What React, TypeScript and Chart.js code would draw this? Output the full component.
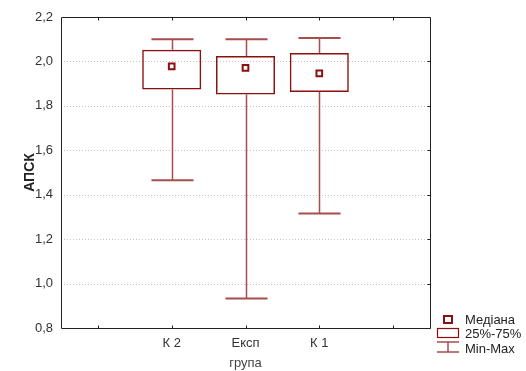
import React, { useEffect, useRef } from "react";
import { Chart, registerables } from "chart.js";

Chart.register(...registerables);

const categories = ["", "К 2", "Експ", "К 1", ""];
const minValues = [null, 1.465, 0.933, 1.315, null];
const q1Values = [null, 1.874, 1.851, 1.862, null];
const medianValues = [null, 1.978, 1.971, 1.946, null];
const q3Values = [null, 2.053, 2.025, 2.038, null];
const maxValues = [null, 2.1, 2.1, 2.106, null];
const legendLabels = ["Медіана", "25%-75%", "Min-Max"];

const RED = "#8b1010";
const RED_LIGHT = "#a84c4c";
const FONT = "'Liberation Sans', Arial, sans-serif";

const boxPlugin = {
  id: "boxExtras",
  beforeDatasetsDraw(chart: any) {
    const { ctx, chartArea } = chart;
    const x = chart.scales.x;
    const y = chart.scales.y;
    ctx.save();
    ctx.strokeStyle = "#c4c4c4";
    ctx.lineWidth = 1;
    ctx.setLineDash([1, 2]);
    y.ticks.forEach((t: any) => {
      if (t.value <= y.min + 1e-9 || t.value >= y.max - 1e-9) return;
      const py = Math.round(y.getPixelForValue(t.value)) + 0.5;
      ctx.beginPath();
      ctx.moveTo(chartArea.left, py);
      ctx.lineTo(chartArea.right, py);
      ctx.stroke();
    });
    ctx.setLineDash([]);
    const catW = x.getPixelForValue(1) - x.getPixelForValue(0);
    const half = catW * 0.285;
    for (let i = 0; i < categories.length; i++) {
      if (minValues[i] == null) continue;
      const px = Math.round(x.getPixelForValue(i)) + 0.5;
      const pMin = y.getPixelForValue(minValues[i] as number);
      const pMax = y.getPixelForValue(maxValues[i] as number);
      const pQ1 = y.getPixelForValue(q1Values[i] as number);
      const pQ3 = y.getPixelForValue(q3Values[i] as number);
      ctx.strokeStyle = RED_LIGHT;
      ctx.lineWidth = 1.5;
      ctx.beginPath();
      ctx.moveTo(px, pMax);
      ctx.lineTo(px, pQ3);
      ctx.moveTo(px, pQ1);
      ctx.lineTo(px, pMin);
      ctx.stroke();
      ctx.lineWidth = 2;
      ctx.beginPath();
      ctx.moveTo(px - half, pMax);
      ctx.lineTo(px + half, pMax);
      ctx.moveTo(px - half, pMin);
      ctx.lineTo(px + half, pMin);
      ctx.stroke();
    }
    ctx.restore();
  },
  afterDraw(chart: any) {
    const { ctx, chartArea } = chart;
    const x = chart.scales.x;
    const y = chart.scales.y;
    ctx.save();
    ctx.strokeStyle = "#222";
    ctx.lineWidth = 1;
    const l = Math.round(chartArea.left) + 0.5;
    const r = Math.round(chartArea.right) + 0.5;
    const t = Math.round(chartArea.top) + 0.5;
    const b = Math.round(chartArea.bottom) + 0.5;
    ctx.beginPath();
    ctx.rect(l, t, r - l, b - t);
    ctx.stroke();
    ctx.beginPath();
    for (let i = 0; i < categories.length; i++) {
      const px = Math.round(x.getPixelForValue(i)) + 0.5;
      ctx.moveTo(px, b);
      ctx.lineTo(px, b - 3);
      ctx.moveTo(px, t);
      ctx.lineTo(px, t + 3);
    }
    y.ticks.forEach((tk: any) => {
      const py = Math.round(y.getPixelForValue(tk.value)) + 0.5;
      ctx.moveTo(r, py);
      ctx.lineTo(r - 3, py);
    });
    ctx.stroke();

    // legend
    const lx = 437;
    const tx = 465;
    ctx.font = `13px ${FONT}`;
    ctx.fillStyle = "#222";
    ctx.textBaseline = "alphabetic";
    ctx.textAlign = "left";
    const bases = [324, 338, 353];
    legendLabels.forEach((s, i) => ctx.fillText(s, tx, bases[i]));
    ctx.fillStyle = "#fff";
    ctx.strokeStyle = RED;
    ctx.lineWidth = 2;
    ctx.fillRect(444, 316, 8, 7);
    ctx.strokeRect(444, 316, 8, 7);
    ctx.lineWidth = 1.2;
    ctx.strokeStyle = RED;
    ctx.strokeRect(lx + 0.5, 328.5, 21, 9);
    ctx.strokeStyle = RED_LIGHT;
    ctx.lineWidth = 1.5;
    ctx.beginPath();
    ctx.moveTo(lx, 342);
    ctx.lineTo(lx + 22, 342);
    ctx.moveTo(lx + 11, 342);
    ctx.lineTo(lx + 11, 352);
    ctx.moveTo(lx, 352);
    ctx.lineTo(lx + 22, 352);
    ctx.stroke();
    ctx.restore();
  },
};

export default function App() {
  const ref = useRef<HTMLCanvasElement>(null);
  useEffect(() => {
    document.body.style.margin = "0";
    const boxes = q1Values.map((q, i) => (q == null ? null : [q, q3Values[i] as number]));
    const chart = new Chart(ref.current as HTMLCanvasElement, {
      type: "bar",
      data: {
        labels: categories,
        datasets: [
          {
            type: "line",
            data: medianValues as any,
            showLine: false,
            pointStyle: "rect",
            pointRadius: 4,
            pointBorderWidth: 2,
            pointBackgroundColor: "#fff",
            pointBorderColor: RED,
            order: 0,
          } as any,
          {
            type: "bar",
            data: boxes as any,
            backgroundColor: "rgba(255,255,255,0)",
            borderColor: RED,
            borderWidth: 1.5,
            borderSkipped: false,
            barPercentage: 0.8,
            categoryPercentage: 1,
            order: 1,
          } as any,
        ],
      },
      options: {
        animation: false,
        responsive: false,
        layout: { padding: { left: 0, right: 96, top: 17, bottom: 0 } },
        plugins: { legend: { display: false }, tooltip: { enabled: false } },
        scales: {
          x: {
            type: "category",
            offset: true,
            grid: { display: false, drawTicks: false },
            border: { display: false },
            ticks: { color: "#333", font: { family: FONT, size: 13 }, padding: 8, autoSkip: false, maxRotation: 0 },
            title: { display: true, text: "група", color: "#444", font: { family: FONT, size: 13 }, padding: { top: 0, bottom: 0 } },
            afterFit: (s: any) => { s.height = 43; },
          },
          y: {
            type: "linear",
            min: 0.8,
            max: 2.2,
            grid: { display: false, drawTicks: false },
            border: { display: false },
            ticks: {
              stepSize: 0.2,
              color: "#333",
              font: { family: FONT, size: 13 },
              padding: 8,
              callback: (v: any) => Number(v).toFixed(1).replace(".", ","),
            },
            title: {
              display: true,
              text: "АПСК",
              color: "#222",
              font: { family: "'Liberation Sans Narrow', 'Liberation Sans', Arial, sans-serif", size: 14, weight: "bold" },
              padding: { top: 22, bottom: 0 },
            },
            afterFit: (s: any) => { s.width = 61; },
          },
        },
      },
      plugins: [boxPlugin],
    });
    return () => chart.destroy();
  }, []);
  return (
    <div style={{ width: 526, height: 371 }}>
      <canvas ref={ref} width={526} height={371} style={{ display: "block", width: 526, height: 371 }} />
    </div>
  );
}
